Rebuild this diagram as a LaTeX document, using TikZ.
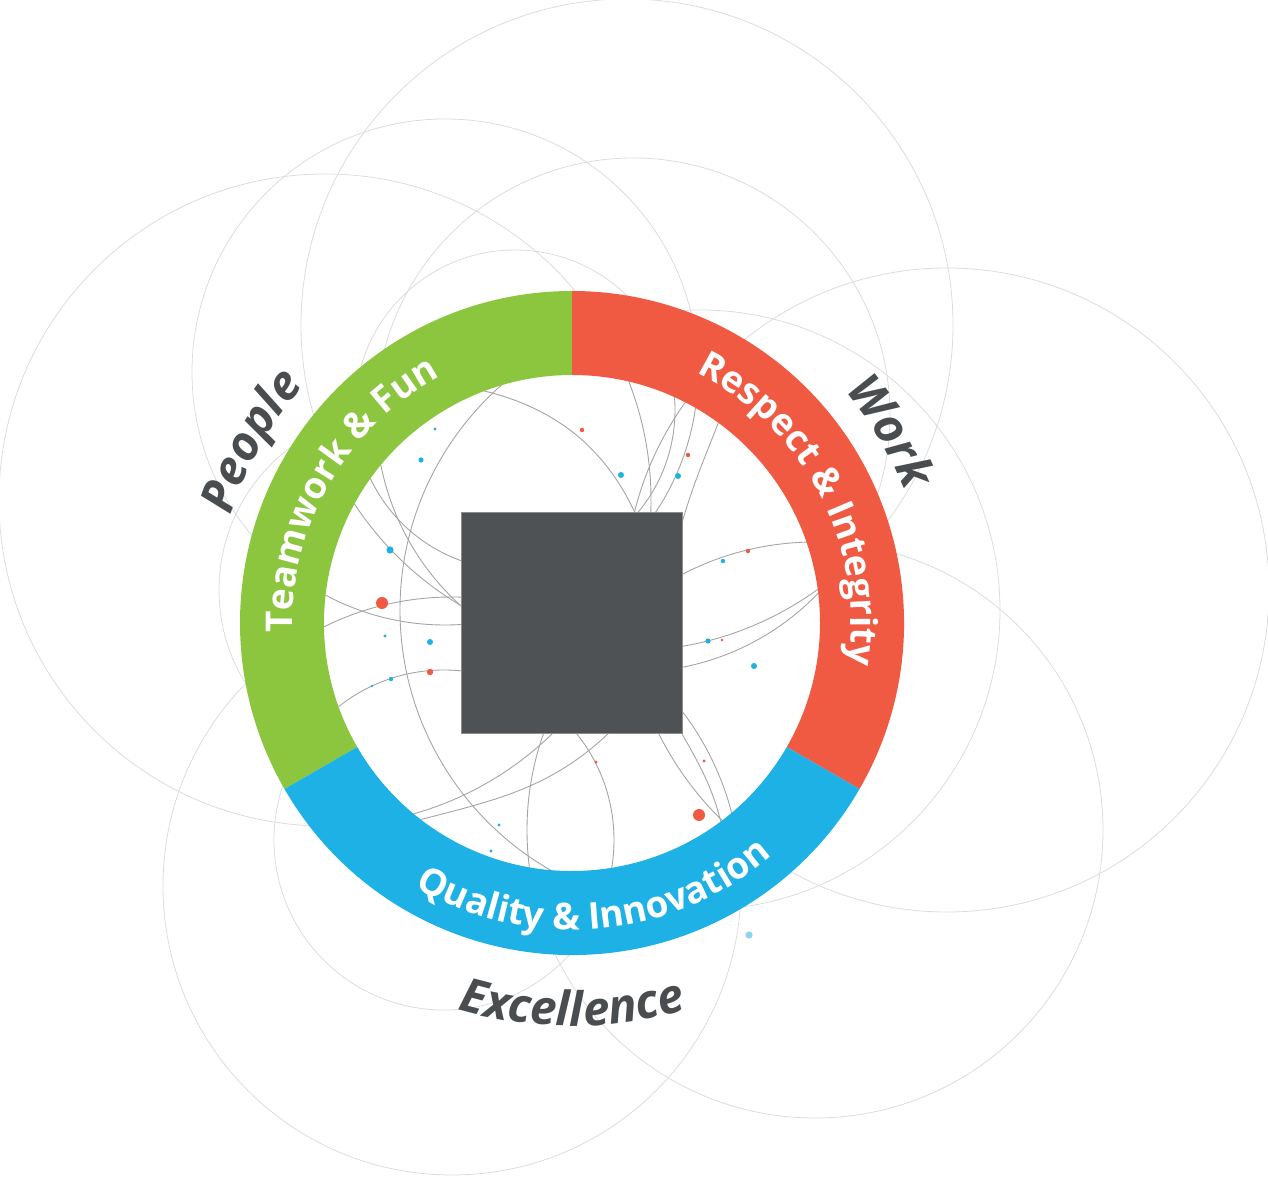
\documentclass[tikz,border=0pt]{standalone}
\usepackage{fontspec}
\setmainfont{Open Sans}
\usepackage{xcolor}
\usepackage{tikz}
\usetikzlibrary{calc,decorations.text}
\definecolor{tfgreen}{HTML}{8CC63F}
\definecolor{tfred}{HTML}{F15A42}
\definecolor{tfblue}{HTML}{1EB1E6}
\definecolor{tflight}{HTML}{8ED3F0}
\definecolor{coregray}{HTML}{4E5255}
\definecolor{inkgray}{HTML}{4A4D50}
\definecolor{faintgray}{HTML}{DCDCDC}
\definecolor{threadgray}{HTML}{A4A4A4}
\newcommand{\bandfont}{\fontsize{21}{24}\selectfont\bfseries}
\newcommand{\keyfont}{\fontsize{27}{30}\selectfont\bfseries\itshape}
\newcommand{\valuecircles}{%
  \foreach \cx/\cy/\cr in {627/852/326, 445/805/253, 325/677/326, 633/762/257, 515/767/160,
      947/587/322, 815/347/288, 452/291/289, 444/337/170, 700/567/300}
    {\draw (\cx,\cy) circle[radius=\cr];}}
\tikzset{
  faint/.style={draw=faintgray, line width=0.45pt},
  thread/.style={draw=threadgray, line width=0.5pt},
  coreblock/.style={draw=black!45, line width=0.4pt, fill=coregray, minimum size=4.42cm, inner sep=0pt},
  bandlabel/.style={decorate, decoration={text along path, text align=center, text={|\bandfont\color{white}|#1}}},
  keylabel/.style={decorate, decoration={text along path, text align=center, text={|\keyfont\color{inkgray}|#1}}}}

\begin{document}
\begin{tikzpicture}[x=0.02cm, y=0.02cm]
  \useasboundingbox (0,0) rectangle (1268,1177);
  \clip (0,0) rectangle (1268,1177);
  \coordinate (O) at (572,554);
  % background circles
  \begin{scope}[faint]
    \valuecircles
    \draw (397,587) circle[radius=178];
  \end{scope}
  \fill[white] (O) circle[radius=248];
  % threads inside the ring
  \begin{scope}
    \clip (O) circle[radius=248];
    \begin{scope}[thread]
      \valuecircles
      \draw (465,790) to[out=-10,in=110] (645,640);
      \draw (730,785) to[out=-110,in=75] (678,640);
      \draw (678,450) to[out=-60,in=100] (725,335);
      \draw (615,450) to[out=-135,in=15] (400,352);
    \end{scope}
  \end{scope}
  % ring
  \foreach \a/\b/\c in {90/210/tfgreen, -30/90/tfred, 210/330/tfblue}
    \fill[\c] ($(O)+(\a:332)$) arc[start angle=\a, end angle=\b, radius=332]
      -- ($(O)+(\b:248)$) arc[start angle=\b, end angle=\a, radius=248] -- cycle;
  % centre block
  \node[coreblock] (core) at (O) {};
  % dots
  \foreach \x/\y/\r in {435/748/1.6, 421/717/2.6, 621/702/3, 678/701/3, 390/627/3.6, 385/541/1.6,
      430/535/3, 391/498/2.2, 372/491/1.3, 723/616/2.2, 708/536/2.6, 754/511/3, 499/352/1.6, 491/326/1.6}
    \fill[tfblue] (\x,\y) circle[radius=\r];
  \foreach \x/\y/\r in {582/747/2.2, 688/722/2.2, 382/574/6, 430/505/3.2, 748/626/2.2, 722/537/1.3,
      596/415/1.6, 704/416/1.6, 699/362/6}
    \fill[tfred] (\x,\y) circle[radius=\r];
  \fill[tflight] (749,242) circle[radius=3.6];
  % ring labels
  \path[bandlabel={Teamwork {\&} Fun}] ($(O)+(195:279)$) arc[start angle=195, end angle=105, radius=279];
  \path[bandlabel={Respect {\&} Integrity}] ($(O)+(75:279)$) arc[start angle=75, end angle=-20, radius=279];
  \path[bandlabel={Quality {\&} Innovation}] ($(O)+(225:307)$) arc[start angle=225, end angle=325, radius=307];
  % outer words
  \path[keylabel={People}] ($(O)+(178:358)$) arc[start angle=178, end angle=123, radius=358];
  \path[keylabel={Work}] ($(O)+(58:358)$) arc[start angle=58, end angle=4, radius=358];
  \path[keylabel={Excellence}] ($(O)+(240:403)$) arc[start angle=240, end angle=300, radius=403];
\end{tikzpicture}
\end{document}
